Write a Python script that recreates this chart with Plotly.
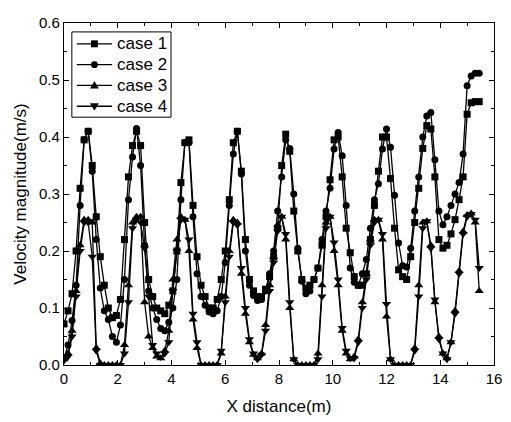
import plotly.graph_objects as go

x_m = [0.00, 0.15, 0.30, 0.45, 0.60, 0.75, 0.90, 1.05, 1.20, 1.35,
       1.50, 1.65, 1.80, 1.95, 2.10, 2.25, 2.40, 2.55, 2.70, 2.85,
       3.00, 3.15, 3.30, 3.45, 3.60, 3.75, 3.90, 4.05, 4.20, 4.35,
       4.50, 4.65, 4.80, 4.95, 5.10, 5.25, 5.40, 5.55, 5.70, 5.85,
       6.00, 6.15, 6.30, 6.45, 6.60, 6.75, 6.90, 7.05, 7.20, 7.35,
       7.50, 7.65, 7.80, 7.95, 8.10, 8.25, 8.40, 8.55, 8.70, 8.85,
       9.00, 9.15, 9.30, 9.45, 9.60, 9.75, 9.90, 10.05, 10.20, 10.35,
       10.50, 10.65, 10.80, 10.95, 11.10, 11.25, 11.40, 11.55, 11.70, 11.85,
       12.00, 12.15, 12.30, 12.45, 12.60, 12.75, 12.90, 13.05, 13.20, 13.35,
       13.50, 13.65, 13.80, 13.95, 14.10, 14.25, 14.40, 14.55, 14.70, 14.85,
       15.00, 15.15, 15.30, 15.45]

case1 = [.072, .095, .125, .20, .31, .395, .41, .35, .26, .19,
         .14, .10, .083, .087, .115, .22, .33, .385, .41, .385,
         .25, .15, .12, .10, .095, .09, .105, .13, .20, .32,
         .39, .395, .28, .19, .14, .12, .10, .10, .115, .15,
         .20, .29, .39, .41, .34, .22, .15, .13, .12, .12,
         .133, .155, .19, .24, .35, .405, .375, .27, .20, .15,
         .135, .14, .15, .17, .21, .26, .325, .395, .40, .33,
         .24, .197, .155, .14, .14, .16, .22, .28, .34, .40,
         .40, .327, .24, .167, .155, .15, .19, .25, .31, .38,
         .42, .414, .33, .22, .205, .21, .23, .255, .29, .33,
         .44, .46, .462, .462]

case2 = [.012, .035, .078, .14, .28, .395, .41, .34, .22, .135,
         .095, .08, .05, .04, .07, .15, .29, .365, .415, .35,
         .21, .13, .10, .08, .064, .06, .075, .10, .15, .29,
         .39, .39, .26, .16, .12, .105, .093, .09, .095, .12,
         .18, .28, .37, .41, .335, .20, .14, .122, .113, .115,
         .13, .16, .20, .27, .33, .395, .38, .30, .205, .147,
         .125, .13, .15, .17, .22, .27, .31, .379, .408, .367,
         .28, .17, .145, .14, .16, .185, .24, .29, .318, .379,
         .414, .382, .298, .214, .174, .172, .205, .27, .33, .40,
         .437, .443, .36, .27, .246, .26, .28, .30, .32, .37,
         .49, .507, .512, .512]

case3 = [.01, .02, .06, .13, .21, .255, .255, .25, .03, .003,
         0, 0, 0, 0, 0, .035, .14, .25, .26, .26,
         .11, .05, .03, .015, .012, .025, .06, .15, .22, .26,
         .255, .20, .08, .03, 0, 0, 0, 0, 0, .02,
         .12, .20, .255, .25, .16, .09, .04, .018, .012, .02,
         .07, .14, .19, .245, .26, .22, .10, .01, 0, 0,
         0, 0, 0, .02, .14, .25, .26, .20, .14, .06,
         .02, .01, .015, .045, .11, .16, .22, .255, .255, .22,
         .085, .01, 0, 0, 0, 0, 0, .03, .14, .25,
         .252, .21, .11, .05, .02, .012, .04, .095, .165, .234,
         .263, .266, .25, .13]

case4 = [.008, .015, .05, .12, .20, .25, .25, .19, .025, 0,
         0, 0, 0, 0, 0, .02, .11, .24, .255, .25,
         .205, .12, .035, .02, .014, .02, .04, .13, .20, .255,
         .255, .22, .09, .04, 0, 0, 0, 0, 0, .025,
         .11, .19, .25, .245, .17, .10, .045, .02, .01, .018,
         .06, .13, .18, .235, .26, .23, .11, .01, 0, 0,
         0, 0, 0, .01, .12, .24, .26, .215, .15, .065,
         .025, .012, .012, .04, .10, .15, .21, .25, .255, .23,
         .107, .01, 0, 0, 0, 0, 0, .025, .12, .24,
         .252, .205, .115, .045, .02, .01, .04, .09, .16, .23,
         .26, .265, .255, .17]

names = ["case 1", "case 2", "case 3", "case 4"]
symbols = ["square", "circle", "triangle-up", "triangle-down"]
sizes = [7, 7, 8, 8]
series = [case1, case2, case3, case4]

W, H = 511, 422
ML, MR, MT, MB = 64, 9, 23, 54
PW, PH = W - ML - MR, H - MT - MB


def px(xp):
    return (xp - ML) / PW


def py(yp):
    return (H - MB - yp) / PH


fig = go.Figure()
for nm, sym, sz, ys in zip(names, symbols, sizes, series):
    fig.add_trace(go.Scatter(
        x=x_m, y=ys, name=nm, mode="lines+markers", showlegend=False,
        line=dict(color="black", width=1.3),
        marker=dict(symbol=sym, size=sz, color="black"),
    ))

font = "Liberation Sans, Arial, sans-serif"

# hand-drawn legend (box, line samples, glyphs, labels)
shapes = [dict(type="rect", xref="paper", yref="paper",
               x0=px(72), x1=px(173), y0=py(118), y1=py(32),
               line=dict(color="black", width=1), fillcolor="white", layer="above")]
annotations = []
rows = [44, 65, 86, 107]
cx, r = 95, 3.5
for nm, sym, row in zip(names, symbols, rows):
    shapes.append(dict(type="line", xref="paper", yref="paper",
                       x0=px(77), x1=px(113), y0=py(row), y1=py(row),
                       line=dict(color="black", width=1.3), layer="above"))
    if sym == "square":
        shapes.append(dict(type="rect", xref="paper", yref="paper",
                           x0=px(cx - r), x1=px(cx + r), y0=py(row + r), y1=py(row - r),
                           line=dict(color="black", width=0), fillcolor="black", layer="above"))
    elif sym == "circle":
        shapes.append(dict(type="circle", xref="paper", yref="paper",
                           x0=px(cx - r), x1=px(cx + r), y0=py(row + r), y1=py(row - r),
                           line=dict(color="black", width=0), fillcolor="black", layer="above"))
    else:
        s = 1 if sym == "triangle-up" else -1
        path = "M {} {} L {} {} L {} {} Z".format(
            px(cx), py(row - s * 4.5),
            px(cx + 4.5), py(row + s * 3),
            px(cx - 4.5), py(row + s * 3))
        shapes.append(dict(type="path", xref="paper", yref="paper", path=path,
                           line=dict(color="black", width=0), fillcolor="black", layer="above"))
    annotations.append(dict(text=nm, xref="paper", yref="paper", x=px(116), y=py(row),
                            xanchor="left", yanchor="middle", showarrow=False,
                            font=dict(size=17, family=font, color="black")))

fig.update_layout(
    width=W, height=H,
    margin=dict(l=ML, r=MR, t=MT, b=MB),
    paper_bgcolor="white", plot_bgcolor="white",
    font=dict(family=font, color="black", size=14),
    showlegend=False,
    shapes=shapes, annotations=annotations,
)
fig.update_xaxes(
    range=[0, 16], dtick=2, tick0=0,
    ticks="inside", ticklen=5, tickwidth=1, tickcolor="black",
    showline=True, linecolor="black", linewidth=1.2, mirror="ticks",
    showgrid=False, zeroline=False,
    minor=dict(dtick=1, ticks="inside", ticklen=3, tickcolor="black", showgrid=False),
    title=dict(text="X distance(m)", font=dict(size=17, family=font), standoff=14),
    tickfont=dict(size=15),
)
fig.update_yaxes(
    range=[0, 0.6], dtick=0.1, tick0=0, tickformat=".1f",
    ticks="inside", ticklen=5, tickwidth=1, tickcolor="black",
    showline=True, linecolor="black", linewidth=1.2, mirror="ticks",
    showgrid=False, zeroline=False,
    minor=dict(dtick=0.05, ticks="inside", ticklen=3, tickcolor="black", showgrid=False),
    title=dict(text="Velocity magnitude(m/s)", font=dict(size=17, family=font), standoff=8),
    tickfont=dict(size=15),
)

fig.write_html("out.html")
